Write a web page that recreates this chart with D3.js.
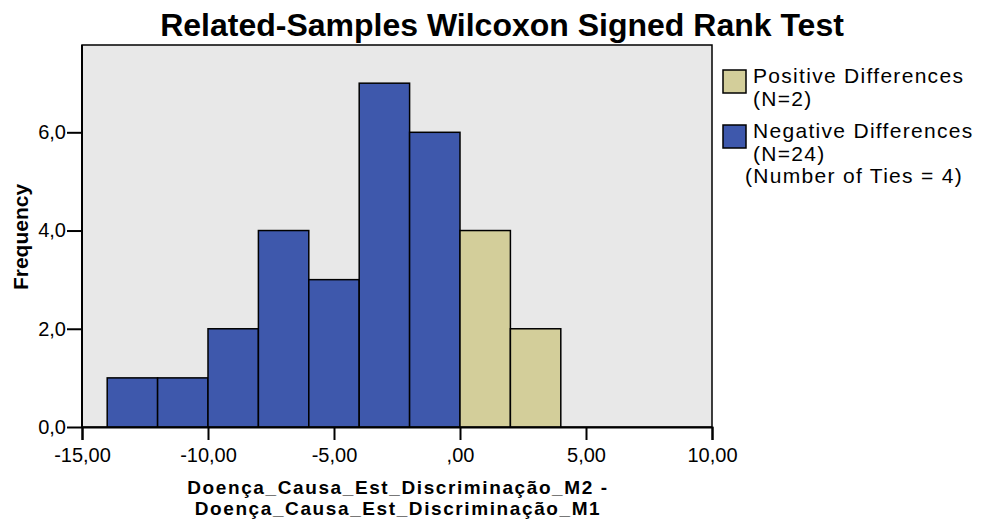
<!DOCTYPE html>
<html>
<head>
<meta charset="utf-8">
<script src="https://cdn.jsdelivr.net/npm/d3@7"></script>
<style>
  body { margin: 0; background: #fff; }
  text { font-family: "Liberation Sans", Arial, sans-serif; }
</style>
</head>
<body>
<div id="chart"></div>
<script>
// histogram bins (lower edge) and counts
let binStarts = [-14, -12, -10, -8, -6, -4, -2, 0, 2];
let binWidth = 2;
let counts = [1, 1, 2, 4, 3, 7, 6, 4, 2];
let groups = ["neg", "neg", "neg", "neg", "neg", "neg", "neg", "pos", "pos"];
let xTicks = [-15, -10, -5, 0, 5, 10];
let yTicks = [0, 2, 4, 6];
let legendItems = [
    {key: "pos", lines: ["Positive Differences", "(N=2)"]},
    {key: "neg", lines: ["Negative Differences", "(N=24)"]}
];

let colors = {pos: "#d3ce9a", neg: "#3e58ac"};

let W = 984, H = 522;
let plot = {left: 82, right: 712, top: 45, bottom: 427};

let svg = d3.select("#chart").append("svg")
    .attr("width", W)
    .attr("height", H);

let x = d3.scaleLinear().domain([-15, 10]).range([plot.left, plot.right]);
let y = d3.scaleLinear().domain([0, 6]).range([plot.bottom, 132.3]);

// plot background
svg.append("rect")
    .attr("x", plot.left).attr("y", plot.top)
    .attr("width", plot.right - plot.left)
    .attr("height", plot.bottom - plot.top)
    .attr("fill", "#e8e8e8")
    .attr("stroke", "#000").attr("stroke-width", 1.5);

let bars = binStarts.map((s, i) => ({x0: s, x1: s + binWidth, n: counts[i], g: groups[i]}));

svg.selectAll("rect.bar")
    .data(bars)
    .enter()
    .append("rect")
    .attr("class", "bar")
    .attr("x", d => x(d.x0))
    .attr("y", d => y(d.n))
    .attr("width", d => x(d.x1) - x(d.x0))
    .attr("height", d => y(0) - y(d.n))
    .attr("fill", d => colors[d.g])
    .attr("stroke", "#000")
    .attr("stroke-width", 1.5);

// axes
let fmtX = d => d === 0 ? ",00" : d3.format(".2f")(d).replace(".", ",").replace("\u2212", "-");

let xAxis = d3.axisBottom(x)
    .tickValues(xTicks)
    .tickSize(13)
    .tickPadding(8)
    .tickFormat(fmtX);

svg.append("g")
    .attr("transform", "translate(0," + plot.bottom + ")")
    .call(xAxis)
    .call(g => g.select(".domain").attr("stroke-width", 2))
    .call(g => g.selectAll(".tick line").attr("stroke-width", 2))
    .call(g => g.selectAll("text").attr("font-size", 20).attr("fill", "#000"));

let yAxis = d3.axisLeft(y)
    .tickValues(yTicks)
    .tickSize(15)
    .tickPadding(1)
    .tickFormat(d => d3.format(".1f")(d).replace(".", ","));

svg.append("g")
    .attr("transform", "translate(" + plot.left + ",0)")
    .call(yAxis)
    .call(g => g.select(".domain").remove())
    .call(g => g.selectAll(".tick line").attr("stroke-width", 2))
    .call(g => g.selectAll("text").attr("font-size", 20).attr("fill", "#000"));

svg.append("line")
    .attr("x1", plot.left).attr("x2", plot.left)
    .attr("y1", plot.top).attr("y2", plot.bottom)
    .attr("stroke", "#000").attr("stroke-width", 2);

// title
svg.append("text")
    .attr("x", 502).attr("y", 36)
    .attr("text-anchor", "middle")
    .attr("font-size", 32).attr("font-weight", "bold")
    .text("Related-Samples Wilcoxon Signed Rank Test");

// axis titles
svg.append("text")
    .attr("transform", "translate(28,237) rotate(-90)")
    .attr("text-anchor", "middle")
    .attr("font-size", 21).attr("font-weight", "bold")
    .text("Frequency");

let xLabel = svg.append("text")
    .attr("text-anchor", "middle")
    .attr("font-size", 19).attr("font-weight", "bold")
    .attr("letter-spacing", 1.6);
xLabel.append("tspan").attr("x", 398).attr("y", 494).text("Doença_Causa_Est_Discriminação_M2 -");
xLabel.append("tspan").attr("x", 398).attr("y", 515).text("Doença_Causa_Est_Discriminação_M1");

// legend
let leg = svg.selectAll("g.legend")
    .data(legendItems)
    .enter()
    .append("g")
    .attr("class", "legend")
    .attr("transform", (d, i) => "translate(723," + (70 + i * 55) + ")");

leg.append("rect")
    .attr("width", 23).attr("height", 23)
    .attr("fill", d => colors[d.key])
    .attr("stroke", "#000").attr("stroke-width", 1.5);

leg.append("text")
    .attr("font-size", 21)
    .attr("letter-spacing", 1.3)
    .selectAll("tspan")
    .data(d => d.lines)
    .enter()
    .append("tspan")
    .attr("x", 30)
    .attr("y", (d, i) => 13 + i * 23)
    .text(d => d);

svg.append("text")
    .attr("x", 745).attr("y", 183)
    .attr("font-size", 21)
    .attr("letter-spacing", 1.3)
    .text("(Number of Ties = 4)");
</script>
</body>
</html>
